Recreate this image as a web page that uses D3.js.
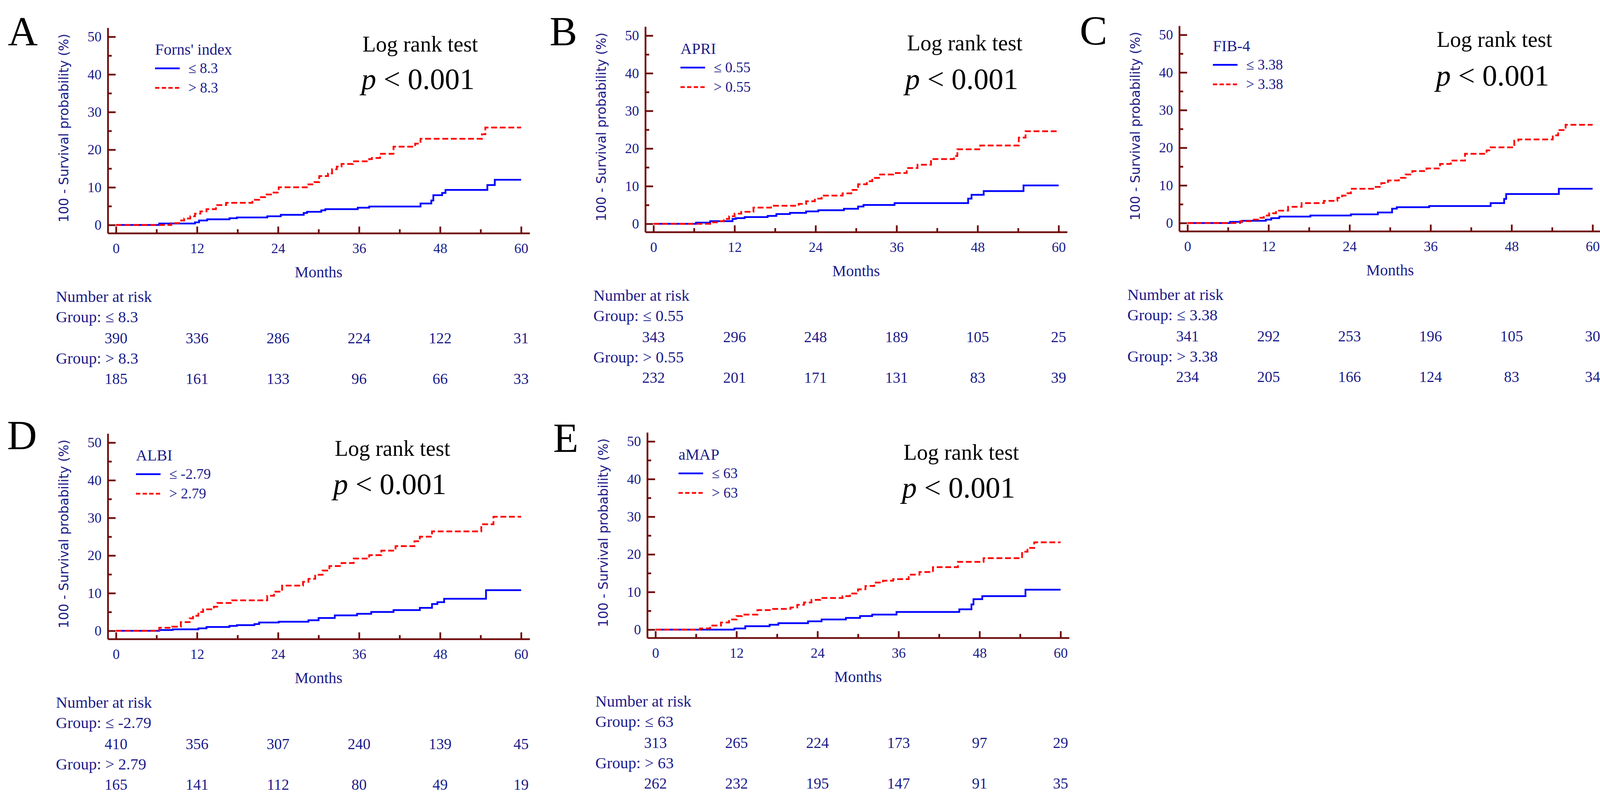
<!DOCTYPE html>
<html>
<head>
<meta charset="utf-8">
<script src="https://cdn.jsdelivr.net/npm/d3@7"></script>
<style>
  body { margin: 0; background: #fff; }
  svg { display: block; }
</style>
</head>
<body>
<svg id="fig" width="4128" height="2061"></svg>
<script>
// ticks
const monthTicks = [0, 12, 24, 36, 48, 60];
const monthMinor = [6, 18, 30, 42, 54];
const pctTicks = [0, 10, 20, 30, 40, 50];
const pctMinor = [5, 15, 25, 35, 45];

// step points [month, 100 - survival %]
const fornsLow = [[0,0],[6.4,0.4],[11.7,0.7],[12.3,1.2],[13.5,1.5],[16.8,1.8],[17.9,2.0],[22.4,2.3],[24.4,2.7],[27.8,3.2],[28.3,3.5],[30.4,3.9],[31,4.2],[35.8,4.6],[37.5,4.9],[45.1,5.7],[46.7,6.5],[47,7.9],[48.3,8.5],[48.8,9.3],[55,10.6],[56.1,12.0]];
const fornsHigh = [[0,0],[8.2,0.5],[9.5,1.2],[10.1,1.7],[11.0,2.3],[11.7,3.0],[12.5,3.6],[13.4,4.2],[14.8,5.3],[16.3,5.9],[20.2,6.7],[21.2,7.4],[22.3,8.1],[23.2,8.6],[24.1,10.0],[28.5,10.8],[29.4,11.4],[30.1,13.0],[31.4,13.7],[32.0,14.8],[32.7,15.5],[33.4,16.2],[35.1,16.9],[37.5,17.5],[37.9,17.8],[39.1,18.9],[41.1,20.8],[44.3,21.6],[45.1,22.9],[54.2,24.1],[54.7,25.9]];
const apriLow = [[0,0],[6.3,0.3],[8.4,0.7],[11.7,1.3],[12.2,1.5],[13.5,1.8],[16.9,2.1],[18.2,2.6],[20.2,2.9],[22.6,3.3],[24.4,3.6],[28.2,4.0],[30.3,4.6],[31.1,5.0],[35.7,5.5],[46.6,6.7],[47.1,7.7],[48.9,8.7],[54.8,10.2]];
const apriHigh = [[0,0],[8.4,0.4],[9.4,0.7],[10.4,1.3],[11.2,2.0],[12.0,2.7],[13.0,3.2],[14.8,4.3],[17.4,4.8],[21.5,5.3],[22.6,6.0],[23.9,6.7],[24.9,7.5],[28,8.1],[29.3,9.0],[30.3,10.5],[31.6,11.3],[32.4,12.2],[33.4,13.1],[35.5,13.5],[37.5,14.8],[39.1,15.7],[41.1,17.2],[44.5,18.0],[45,19.8],[48.4,20.8],[54.1,22.9],[55.1,24.6]];
const fib4Low = [[0,0],[6.3,0.3],[8.1,0.6],[11.6,0.9],[12.4,1.3],[13.6,1.7],[18.2,2.0],[24.2,2.3],[28.2,2.8],[30.3,3.8],[31,4.2],[35.8,4.5],[44.9,5.3],[46.9,6.4],[47.2,7.7],[55,9.1]];
const fib4High = [[0,0],[7.8,0.5],[9.6,0.9],[10.6,1.4],[11.3,2.0],[12.1,2.6],[13.1,3.3],[14.9,4.3],[16.9,5.3],[20.2,5.9],[22.2,6.7],[22.9,7.3],[23.7,7.9],[24.2,9.1],[27.7,9.6],[28.7,10.6],[29.7,11.3],[31.3,12.0],[32.3,12.9],[33.3,13.8],[35.4,14.5],[37.4,15.7],[39.0,16.6],[41.1,18.4],[44.3,19.3],[44.9,20.1],[48.4,21.9],[49.0,22.2],[54.1,23.3],[54.9,24.7],[56.0,26.1]];
const albiLow = [[0,0],[6.4,0.2],[8.4,0.4],[12.2,0.65],[13.4,1.0],[16.8,1.3],[17.9,1.5],[20.5,1.8],[21.2,2.2],[24.1,2.4],[28.5,2.8],[30.0,3.4],[32.4,4.1],[35.7,4.5],[37.8,5.0],[41.1,5.5],[45.0,6.1],[46.8,7.1],[47.6,7.6],[48.6,8.5],[54.8,10.8]];
const albiHigh = [[0,0],[6.4,0.8],[8.3,1.1],[9.6,2.3],[10.9,3.3],[11.4,4.0],[12.2,5.0],[12.9,5.7],[14.5,6.4],[15.0,7.4],[17.2,8.1],[22.4,9.3],[23.4,10.4],[24.6,12.0],[27.7,13.0],[28.5,13.8],[29.5,14.9],[30.6,16.0],[31.6,17.2],[33.4,18.0],[35.2,19.2],[37.5,20.1],[39.3,21.3],[41.4,22.5],[44.2,23.8],[45.0,25.0],[46.8,26.4],[54.1,28.3],[55.9,30.3]];
const amapLow = [[0,0],[11.7,0.3],[13.3,0.9],[16.9,1.3],[18.2,1.7],[22.6,2.2],[24.6,2.7],[28.2,3.1],[30.3,3.6],[32.1,4.0],[35.7,4.7],[45.0,5.4],[46.8,6.7],[47.1,8.1],[48.4,8.9],[54.8,10.6]];
const amapHigh = [[0,0],[6.6,0.3],[8.1,1.1],[9.7,1.9],[10.9,2.7],[12.0,3.6],[12.8,4.0],[15.1,5.2],[17.1,5.5],[20.0,5.9],[21.0,6.6],[22.0,7.2],[23.1,7.9],[24.4,8.4],[27.7,8.9],[28.8,9.6],[30.0,10.7],[31.1,11.6],[32.4,12.5],[33.7,13.0],[35.2,13.4],[37.5,14.6],[39.1,15.3],[41.1,16.6],[44.8,18.0],[48.6,19.0],[54.3,20.7],[55.1,21.7],[56.1,23.2]];

// number at risk at 0,12,...,60 months
const riskFornsLow = [390, 336, 286, 224, 122, 31];
const riskFornsHigh = [185, 161, 133, 96, 66, 33];
const riskApriLow = [343, 296, 248, 189, 105, 25];
const riskApriHigh = [232, 201, 171, 131, 83, 39];
const riskFib4Low = [341, 292, 253, 196, 105, 30];
const riskFib4High = [234, 205, 166, 124, 83, 34];
const riskAlbiLow = [410, 356, 307, 240, 139, 45];
const riskAlbiHigh = [165, 141, 112, 80, 49, 19];
const riskAmapLow = [313, 265, 224, 173, 97, 29];
const riskAmapHigh = [262, 232, 195, 147, 91, 35];

const panels = [
  {letter: "A", title: "Forns' index", lowLab: "≤ 8.3", highLab: "> 8.3", low: fornsLow, high: fornsHigh, rLow: riskFornsLow, rHigh: riskFornsHigh,
   ax: 276, y0: 576, let: [20, 116], leg: [397, 127], log: [928, 132], pv: [925, 228]},
  {letter: "B", title: "APRI", lowLab: "≤ 0.55", highLab: "> 0.55", low: apriLow, high: apriHigh, rLow: riskApriLow, rHigh: riskApriHigh,
   ax: 1652, y0: 573, let: [1407, 116], leg: [1742, 125], log: [2322, 129], pv: [2317, 228]},
  {letter: "C", title: "FIB-4", lowLab: "≤ 3.38", highLab: "> 3.38", low: fib4Low, high: fib4High, rLow: riskFib4Low, rHigh: riskFib4High,
   ax: 3019, y0: 571, let: [2764, 114], leg: [3105, 118], log: [3678, 120], pv: [3676, 219]},
  {letter: "D", title: "ALBI", lowLab: "≤ -2.79", highLab: "> 2.79", low: albiLow, high: albiHigh, rLow: riskAlbiLow, rHigh: riskAlbiHigh,
   ax: 276, y0: 1615, let: [18, 1150], leg: [348, 1166], log: [857, 1167], pv: [853, 1265]},
  {letter: "E", title: "aMAP", lowLab: "≤ 63", highLab: "> 63", low: amapLow, high: amapHigh, rLow: riskAmapLow, rHigh: riskAmapHigh,
   ax: 1657, y0: 1612, let: [1416, 1157], leg: [1737, 1164], log: [2313, 1177], pv: [2309, 1274]}
];

const navy = "#1c1c8a";
const axisCol = "#700c0c";
const serif = "'Liberation Serif', 'Times New Roman', serif";
const svg = d3.select("#fig");

function styleAxis(sel, labels) {
  sel.selectAll("path, line").attr("stroke", axisCol).attr("stroke-width", 4.5);
  sel.selectAll("text").attr("fill", navy).attr("font-family", serif).attr("font-size", 36);
  if (!labels) sel.selectAll("text").remove();
}

panels.forEach(p => {
  const g = svg.append("g");

  // month scale: 0 sits 21px right of the y axis line, axis runs 22px past 60
  const x = d3.scaleLinear().domain([-1.215, 61.27]).range([p.ax, p.ax + 1080]);
  const y = d3.scaleLinear().domain([-2.18, 52.4]).range([p.y0 + 21, p.y0 - 505]);

  // y axis, ticks pointing inside
  g.append("g").attr("transform", `translate(${p.ax},0)`)
    .call(d3.axisLeft(y).tickValues(pctTicks).tickSize(-20).tickSizeOuter(0).tickPadding(16))
    .call(s => styleAxis(s, true));
  g.append("g").attr("transform", `translate(${p.ax},0)`)
    .call(d3.axisLeft(y).tickValues(pctMinor).tickSize(-10).tickSizeOuter(0))
    .call(s => { styleAxis(s, false); s.select(".domain").remove(); });

  // x axis
  g.append("g").attr("transform", `translate(0,${p.y0 + 21})`)
    .call(d3.axisBottom(x).tickValues(monthTicks).tickSize(-17).tickSizeOuter(0).tickPadding(25))
    .call(s => styleAxis(s, true));
  g.append("g").attr("transform", `translate(0,${p.y0 + 21})`)
    .call(d3.axisBottom(x).tickValues(monthMinor).tickSize(-10).tickSizeOuter(0))
    .call(s => { styleAxis(s, false); s.select(".domain").remove(); });

  // curves
  const line = d3.line().x(d => x(d[0])).y(d => y(d[1])).curve(d3.curveStepAfter);
  const ext = arr => arr.concat([[60, arr[arr.length - 1][1]]]);
  g.append("path").datum(ext(p.low)).attr("d", line)
    .attr("fill", "none").attr("stroke", "#0000ff").attr("stroke-width", 4.5);
  g.append("path").datum(ext(p.high)).attr("d", line)
    .attr("fill", "none").attr("stroke", "#ff0000").attr("stroke-width", 4.5)
    .attr("stroke-dasharray", "15,7");

  // y label
  g.append("text")
    .attr("transform", `translate(${p.ax - 113},${p.y0 - 248}) rotate(-90)`)
    .attr("text-anchor", "middle").attr("dominant-baseline", "central")
    .attr("font-family", "'DejaVu Sans', Verdana, sans-serif").attr("font-size", 33)
    .attr("fill", navy).text("100 - Survival probability (%)");

  // x label
  g.append("text").attr("x", x(30)).attr("y", p.y0 + 134)
    .attr("text-anchor", "middle").attr("font-family", serif).attr("font-size", 40)
    .attr("fill", navy).text("Months");

  // panel letter
  g.append("text").attr("x", p.let[0]).attr("y", p.let[1])
    .attr("font-family", serif).attr("font-size", 106).attr("fill", "#000").text(p.letter);

  // legend
  const [lx, ly] = p.leg;
  g.append("text").attr("x", lx).attr("y", ly + 13)
    .attr("font-family", serif).attr("font-size", 40).attr("fill", navy).text(p.title);
  [[p.lowLab, "#0000ff", null, 48], [p.highLab, "#ff0000", "11,6", 98]].forEach(([lab, col, dash, dy]) => {
    g.append("line").attr("x1", lx).attr("x2", lx + 63).attr("y1", ly + dy).attr("y2", ly + dy)
      .attr("stroke", col).attr("stroke-width", 4.5).attr("stroke-dasharray", dash);
    g.append("text").attr("x", lx + 85).attr("y", ly + dy + 12)
      .attr("font-family", serif).attr("font-size", 37).attr("fill", navy).text(lab);
  });

  // log rank annotation
  g.append("text").attr("x", p.log[0]).attr("y", p.log[1])
    .attr("font-family", serif).attr("font-size", 56).attr("fill", "#000").text("Log rank test");
  const pt = g.append("text").attr("x", p.pv[0]).attr("y", p.pv[1])
    .attr("font-family", serif).attr("font-size", 76).attr("fill", "#000");
  pt.append("tspan").attr("font-style", "italic").text("p");
  pt.append("tspan").text(" < 0.001");

  // number at risk table
  const tx = p.ax - 133;
  const txt = (xx, yy, s, anchor, fs) => g.append("text").attr("x", xx).attr("y", yy)
    .attr("text-anchor", anchor || "start").attr("font-family", serif)
    .attr("font-size", fs || 41).attr("fill", navy).text(s);
  txt(tx, p.y0 + 197, "Number at risk");
  txt(tx, p.y0 + 249, "Group: " + p.lowLab);
  p.rLow.forEach((n, i) => txt(x(monthTicks[i]), p.y0 + 303, n, "middle", 39));
  txt(tx, p.y0 + 355, "Group: " + p.highLab);
  p.rHigh.forEach((n, i) => txt(x(monthTicks[i]), p.y0 + 407, n, "middle", 39));
});
</script>
</body>
</html>
